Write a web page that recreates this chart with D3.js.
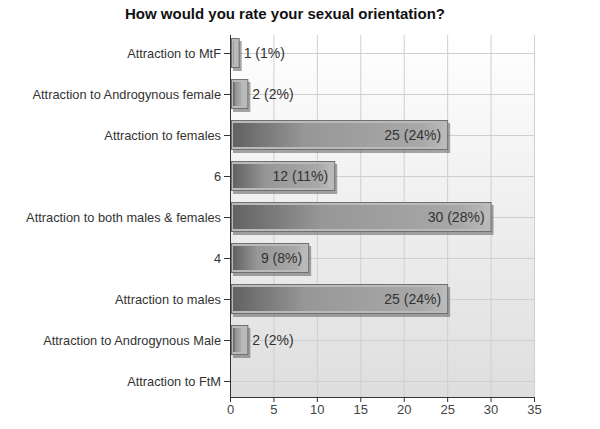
<!DOCTYPE html>
<html><head><meta charset="utf-8">
<script src="https://cdn.jsdelivr.net/npm/d3@7"></script>
<style>body{margin:0;background:#fff;}svg{display:block;font-family:"Liberation Sans",Arial,sans-serif;}</style>
</head><body>
<svg id="c" width="600" height="429"></svg>
<script>
const categories = ["Attraction to MtF","Attraction to Androgynous female","Attraction to females","6","Attraction to both males & females","4","Attraction to males","Attraction to Androgynous Male","Attraction to FtM"];
const counts = [1,2,25,12,30,9,25,2,0];
const percents = [1,2,24,11,28,8,24,2,0];
const xTicks = [0,5,10,15,20,25,30,35];
const title = "How would you rate your sexual orientation?";

const svg = d3.select("#c");
const L = 230, R = 534, T = 35, B = 397;
const x = d3.scaleLinear().domain([0,35]).range([L,R]);
const y = d3.scalePoint().domain(categories).range([53,381]);
const barH = 30;

const defs = svg.append("defs");
const bg = defs.append("linearGradient").attr("id","bg").attr("x1",0).attr("y1",0).attr("x2",0).attr("y2",1);
bg.append("stop").attr("offset","0%").attr("stop-color","#ffffff");
bg.append("stop").attr("offset","100%").attr("stop-color","#dedede");
const bar = defs.append("linearGradient").attr("id","bar").attr("x1",0).attr("y1",0).attr("x2",1).attr("y2",0);
bar.append("stop").attr("offset","0%").attr("stop-color","#626262");
bar.append("stop").attr("offset","35%").attr("stop-color","#979797");
bar.append("stop").attr("offset","90%").attr("stop-color","#a8a8a8");
bar.append("stop").attr("offset","100%").attr("stop-color","#b6b6b6");

svg.append("text").attr("x",285).attr("y",19).attr("text-anchor","middle")
  .attr("font-size",15).attr("font-weight","bold").attr("fill","#111").text(title);

svg.append("rect").attr("x",L).attr("y",T).attr("width",R-L).attr("height",B-T).attr("fill","url(#bg)");

// gridlines
svg.append("g").selectAll("line").data(xTicks.slice(1)).join("line")
  .attr("x1",d=>x(d)+0.5).attr("x2",d=>x(d)+0.5).attr("y1",T).attr("y2",B)
  .attr("stroke","#cfcfcf").attr("stroke-width",1);
svg.append("g").selectAll("line").data(categories).join("line")
  .attr("x1",L).attr("x2",R).attr("y1",d=>y(d)+0.5).attr("y2",d=>y(d)+0.5)
  .attr("stroke","#cfcfcf").attr("stroke-width",1);

// bars
const data = categories.map((c,i)=>({c, v:counts[i], p:percents[i]}));
const bars = svg.append("g").selectAll("g").data(data.filter(d=>d.v>0)).join("g");
bars.append("rect").attr("x",L+3).attr("y",d=>y(d.c)-barH/2+3)
  .attr("width",d=>x(d.v)-L).attr("height",barH).attr("fill","#6a6a6a").attr("opacity",0.6);
bars.append("rect").attr("x",L+1.5).attr("y",d=>y(d.c)-barH/2+0.5)
  .attr("width",d=>x(d.v)-L-1).attr("height",barH-1)
  .attr("fill","#bababa").attr("stroke","#707070").attr("stroke-width",1);
bars.append("rect").attr("x",L+3).attr("y",d=>y(d.c)-barH/2+3)
  .attr("width",d=>Math.max(1,x(d.v)-L-9)).attr("height",barH-6)
  .attr("fill","url(#bar)");

bars.append("text")
  .attr("x",d=> (x(d.v)-L) > 40 ? x(d.v)-6 : x(d.v)+5)
  .attr("y",d=>y(d.c)+5)
  .attr("text-anchor",d=> (x(d.v)-L) > 40 ? "end" : "start")
  .attr("font-size",14).attr("fill","#333")
  .text(d=>`${d.v} (${d.p}%)`);

// axes
const yAxis = svg.append("g").attr("transform",`translate(${L},0)`)
  .call(d3.axisLeft(y).tickSize(6).tickPadding(3));
yAxis.select(".domain").attr("d",`M0.5,${T}V${B}`).attr("stroke","#333");
yAxis.selectAll(".tick line").attr("stroke","#333");
yAxis.selectAll("text").attr("font-size",12.8).attr("fill","#333").attr("font-family","Liberation Sans, Arial, sans-serif");

const xAxis = svg.append("g").attr("transform",`translate(0,${B})`)
  .call(d3.axisBottom(x).tickValues(xTicks).tickSize(5).tickPadding(3));
xAxis.select(".domain").attr("d",`M${L},0.5H${R+0.5}`).attr("stroke","#333");
xAxis.selectAll(".tick line").attr("stroke","#333");
xAxis.selectAll("text").attr("font-size",13).attr("fill","#444").attr("font-family","Liberation Sans, Arial, sans-serif");
</script>
</body></html>
